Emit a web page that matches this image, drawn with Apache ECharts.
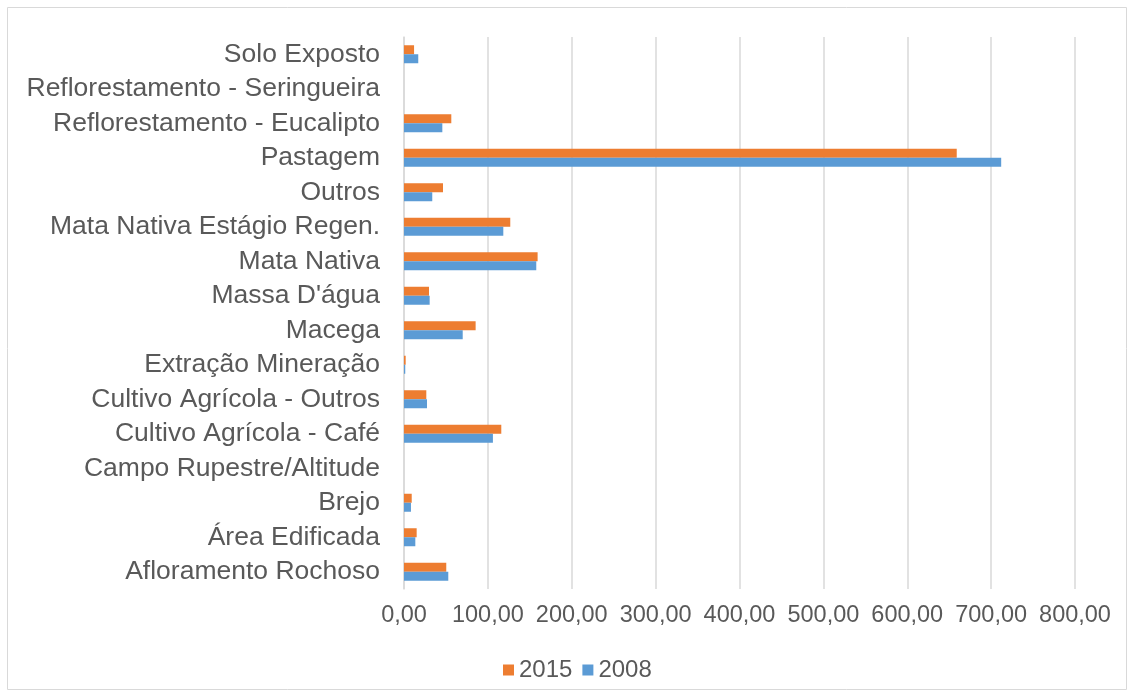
<!DOCTYPE html>
<html>
<head>
<meta charset="utf-8">
<script src="https://cdn.jsdelivr.net/npm/echarts@6/dist/echarts.min.js"></script>
<style>
  html, body { margin: 0; padding: 0; background: #fff; }
  #chart { width: 1134px; height: 697px; }
</style>
</head>
<body>
<div id="chart"></div>
<script>
// categorias (de baixo para cima, como no eixo)
const categorias = [
  'Afloramento Rochoso',
  'Área Edificada',
  'Brejo',
  'Campo Rupestre/Altitude',
  'Cultivo Agrícola - Café',
  'Cultivo Agrícola - Outros',
  'Extração Mineração',
  'Macega',
  "Massa D'água",
  'Mata Nativa',
  'Mata Nativa Estágio Regen.',
  'Outros',
  'Pastagem',
  'Reflorestamento - Eucalipto',
  'Reflorestamento - Seringueira',
  'Solo Exposto'
];

const valores2015 = [50.4, 15.1, 9.2, 0, 116, 26.6, 2, 85.4, 29.8, 159.3, 126.7, 46.5, 659, 56.4, 0, 12];
const valores2008 = [52.8, 13.5, 8.3, 0, 106, 27.4, 1.5, 70, 30.6, 157.7, 118.4, 33.7, 712, 45.7, 0, 17];

const ticksEixo = [0, 100, 200, 300, 400, 500, 600, 700, 800];

const chart = echarts.init(document.getElementById('chart'));

const fonte = 'Liberation Sans, Arial, sans-serif';
const corTexto = '#595959';
const corGrade = '#d9d9d9';

const option = {
  animation: false,
  textStyle: { fontFamily: fonte },
  graphic: [{
    type: 'rect',
    shape: { x: 7.5, y: 7.5, width: 1119, height: 682 },
    style: { fill: 'none', stroke: corGrade, lineWidth: 1 },
    silent: true
  }],
  grid: {
    left: 404,
    right: 1134 - 1075,
    top: 37,
    bottom: 697 - 589
  },
  legend: {
    data: ['2015', '2008'],
    top: 653,
    left: 498,
    itemWidth: 11,
    itemHeight: 11,
    itemGap: 10,
    icon: 'rect',
    textStyle: { color: corTexto, fontSize: 24, fontFamily: fonte }
  },
  xAxis: {
    type: 'value',
    min: ticksEixo[0],
    max: ticksEixo[ticksEixo.length - 1],
    interval: 100,
    axisLine: { show: false },
    axisTick: { show: false },
    splitLine: { lineStyle: { color: corGrade, width: 1.5 } },
    axisLabel: {
      color: corTexto,
      fontSize: 23.5,
      margin: 15,
      formatter: function (v) {
        return v.toFixed(2).replace('.', ',');
      }
    }
  },
  yAxis: {
    type: 'category',
    data: categorias,
    axisLine: { show: true, lineStyle: { color: corGrade, width: 1.5 } },
    axisTick: { show: false },
    axisLabel: {
      interval: 0,
      color: corTexto,
      fontSize: 26.5,
      margin: 24
    }
  },
  series: [
    {
      name: '2015',
      type: 'bar',
      data: valores2015,
      barWidth: 9,
      barGap: '0%',
      itemStyle: { color: '#ed7d31' }
    },
    {
      name: '2008',
      type: 'bar',
      data: valores2008,
      barWidth: 9,
      barGap: '0%',
      itemStyle: { color: '#5b9bd5' }
    }
  ]
};

chart.setOption(option);
</script>
</body>
</html>
